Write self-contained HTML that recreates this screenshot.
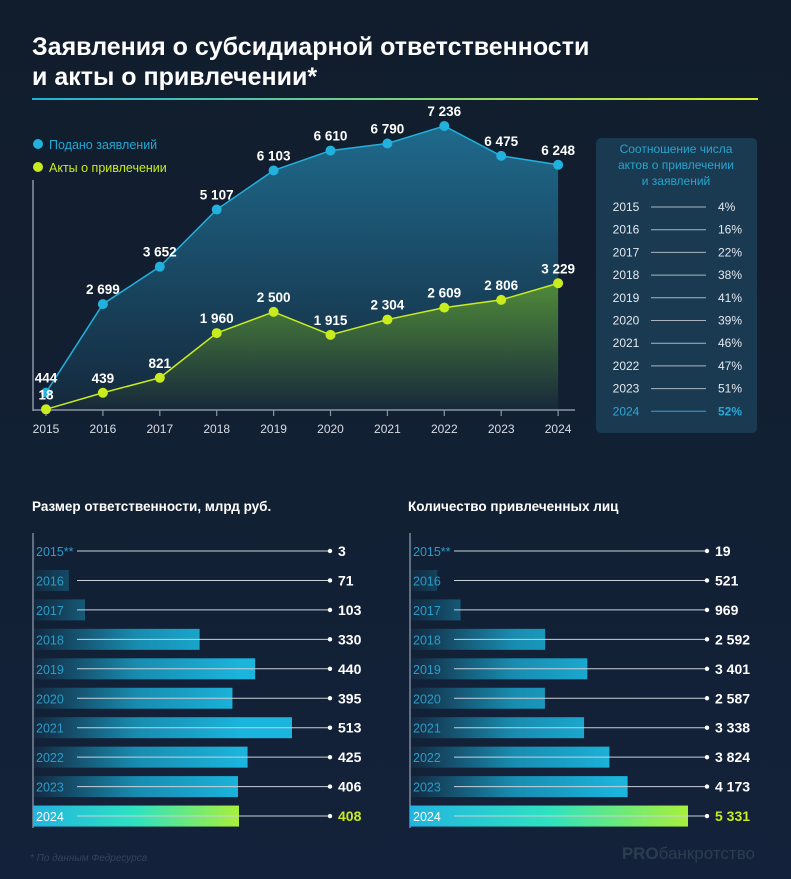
<!DOCTYPE html>
<html><head><meta charset="utf-8"><style>
body{margin:0;background:#121f30;}
svg{display:block;font-family:"Liberation Sans",sans-serif;}
</style></head><body>
<svg width="791" height="879" viewBox="0 0 791 879" xmlns="http://www.w3.org/2000/svg" id="chart">
<defs>
<linearGradient id="bg" x1="0" y1="0" x2="0" y2="1"><stop offset="0" stop-color="#111d2c"/><stop offset="1" stop-color="#13223a"/></linearGradient>
<linearGradient id="ul" x1="0" x2="1"><stop offset="0" stop-color="#1fb0d8"/><stop offset="1" stop-color="#d8f02a"/></linearGradient>
<linearGradient id="areaB" x1="0" y1="0" x2="0" y2="1"><stop offset="0" stop-color="#1f6a8c"/><stop offset="1" stop-color="#14283c"/></linearGradient>
<linearGradient id="areaG" x1="0" y1="0" x2="0" y2="1"><stop offset="0" stop-color="#4f8a3a"/><stop offset="1" stop-color="#17283a"/></linearGradient>
<linearGradient id="barB1" gradientUnits="userSpaceOnUse" x1="33" y1="0" x2="240" y2="0"><stop offset="0" stop-color="#1ab0d8" stop-opacity="0.05"/><stop offset="0.5" stop-color="#1ab0d8" stop-opacity="0.75"/><stop offset="1" stop-color="#1ab4dc"/></linearGradient>
<linearGradient id="barB2" gradientUnits="userSpaceOnUse" x1="410" y1="0" x2="617" y2="0"><stop offset="0" stop-color="#1ab0d8" stop-opacity="0.05"/><stop offset="0.5" stop-color="#1ab0d8" stop-opacity="0.75"/><stop offset="1" stop-color="#1ab4dc"/></linearGradient>
<linearGradient id="barG" x1="0" x2="1"><stop offset="0" stop-color="#22b4e0"/><stop offset="0.5" stop-color="#2ee2c0"/><stop offset="1" stop-color="#a8f03a"/></linearGradient>
</defs>
<rect width="791" height="879" fill="url(#bg)"/>
<text x="32" y="55" font-size="25" font-weight="bold" fill="#fff">Заявления о субсидиарной ответственности</text>
<text x="32" y="85" font-size="25" font-weight="bold" fill="#fff">и акты о привлечении*</text>
<rect x="32" y="98" width="726" height="2" fill="url(#ul)"/>

<g>
<circle cx="38" cy="144" r="5" fill="#22b0dc"/>
<text x="49" y="149" font-size="12.5" fill="#22a8d4">Подано заявлений</text>
<circle cx="38" cy="167" r="5" fill="#c8ec1e"/>
<text x="49" y="172" font-size="12.5" fill="#c8ec1e">Акты о привлечении</text>
</g>
<g id="lineChart"></g>

<g>
<rect x="596" y="138" width="161" height="295" rx="5" fill="#1a3a52"/>
<text x="676" y="153" font-size="12" fill="#2aa4cc" text-anchor="middle">Соотношение числа</text>
<text x="676" y="169" font-size="12" fill="#2aa4cc" text-anchor="middle">актов о привлечении</text>
<text x="676" y="185" font-size="12" fill="#2aa4cc" text-anchor="middle">и заявлений</text>
<g id="ratioRows"></g>
</g>

<text x="32" y="511" font-size="13.5" font-weight="bold" fill="#fff">Размер ответственности, млрд руб.</text>
<text x="408" y="511" font-size="13.5" font-weight="bold" fill="#fff">Количество привлеченных лиц</text>
<g id="bars1"></g>
<g id="bars2"></g>

<text x="30" y="861" font-size="10" font-style="italic" fill="#33445a">* По данным Федресурса</text>
<text x="755" y="859" font-size="17" font-weight="bold" fill="#2c3d50" text-anchor="end">PRO<tspan font-weight="normal">банкротство</tspan></text>
</svg>
<script>
const years=["2015","2016","2017","2018","2019","2020","2021","2022","2023","2024"];
const applications=[444,2699,3652,5107,6103,6610,6790,7236,6475,6248];
const acts=[18,439,821,1960,2500,1915,2304,2609,2806,3229];
const appLabels=["444","2 699","3 652","5 107","6 103","6 610","6 790","7 236","6 475","6 248"];
const actLabels=["18","439","821","1 960","2 500","1 915","2 304","2 609","2 806","3 229"];
const ratios=["4%","16%","22%","38%","41%","39%","46%","47%","51%","52%"];
const liability=[3,71,103,330,440,395,513,425,406,408];
const liabilityLabels=["3","71","103","330","440","395","513","425","406","408"];
const persons=[19,521,969,2592,3401,2587,3338,3824,4173,5331];
const personsLabels=["19","521","969","2 592","3 401","2 587","3 338","3 824","4 173","5 331"];
const barYears=["2015**","2016","2017","2018","2019","2020","2021","2022","2023","2024"];

const NS="http://www.w3.org/2000/svg";
function mk(p,t,a,txt){const e=document.createElementNS(NS,t);for(const k in a)e.setAttribute(k,a[k]);if(txt!==undefined)e.textContent=txt;p.appendChild(e);return e;}
const xS=i=>46+i*56.9;
const yS=v=>410-v*(284/7236);
const lc=document.getElementById('lineChart');
let e;
e=mk(lc,'path',{d:'M'+years.map((_,i)=>xS(i)+','+yS(applications[i])).join('L')+'L'+xS(9)+',410L'+xS(0)+',410Z',fill:'url(#areaB)'});


e=mk(lc,'path',{d:'M'+years.map((_,i)=>xS(i)+','+yS(acts[i])).join('L')+'L'+xS(9)+',410L'+xS(0)+',410Z',fill:'url(#areaG)'});


e=mk(lc,'line',{x1:33,y1:180,x2:33,y2:411,stroke:'#8a96a4','stroke-width':1.5});


e=mk(lc,'line',{x1:33,y1:410,x2:575,y2:410,stroke:'#8a96a4','stroke-width':1.5});


e=mk(lc,'polyline',{points:years.map((_,i)=>xS(i)+','+yS(applications[i])).join(' '),fill:'none',stroke:'#22b0dc','stroke-width':1.5});


e=mk(lc,'polyline',{points:years.map((_,i)=>xS(i)+','+yS(acts[i])).join(' '),fill:'none',stroke:'#c8ec1e','stroke-width':1.5});


years.forEach((y,i)=>{
 const x=xS(i);
 e=mk(lc,'line',{x1:x,y1:410,x2:x,y2:416,stroke:'#8a96a4','stroke-width':1.2});
 
 
 e=mk(lc,'text',{x:x,y:433,'font-size':12,fill:'#d8dde4','text-anchor':'middle'},y);
 
 
 e=mk(lc,'circle',{cx:x,cy:yS(applications[i]),r:5,fill:'#22b0dc'});
 
 
 e=mk(lc,'circle',{cx:x,cy:yS(acts[i]),r:5,fill:'#c8ec1e'});
 
 
 e=mk(lc,'text',{x:x,y:yS(applications[i])-10,'font-size':13.5,'font-weight':'bold',fill:'#fff','text-anchor':'middle'},appLabels[i]);
 
 
 e=mk(lc,'text',{x:x,y:yS(acts[i])-10,'font-size':13.5,'font-weight':'bold',fill:'#fff','text-anchor':'middle'},actLabels[i]);
 
 
});
const rr=document.getElementById('ratioRows');
years.forEach((y,i)=>{
 const yy=211+i*22.7, last=i===9, c=last?'#2aa8d8':'#e4e8ee';
 e=mk(rr,'text',{x:626,y:yy,'font-size':12,fill:c,'text-anchor':'middle'},y);
 
 
 e=mk(rr,'line',{x1:651,y1:yy-4,x2:706,y2:yy-4,stroke:last?'#2aa8d8':'#aab4c0','stroke-width':1});
 
 
 e=mk(rr,'text',{x:718,y:yy,'font-size':12,fill:c,'font-weight':last?'bold':'normal'},ratios[i]);
 
 
});
function bars(id,x0,scale,vals,labels,lineEnd,grad){
 const g=document.getElementById(id);
 e=mk(g,'line',{x1:x0,y1:533,x2:x0,y2:828,stroke:'#7a8898','stroke-width':1.5});
 
 
 vals.forEach((v,i)=>{
  const cy=551+i*29.45,last=i===9;
  e=mk(g,'rect',{x:x0,y:cy-10.5,width:Math.max(v*scale,2),height:21,fill:last?'url(#barG)':'url(#'+grad+')'});
  
  
  e=mk(g,'text',{x:x0+3,y:cy+5,'font-size':12.5,fill:last?'#fff':'#2a9cc8'},barYears[i]);
  
  
  e=mk(g,'line',{x1:x0+44,y1:cy,x2:lineEnd,y2:cy,stroke:'#c8d0da','stroke-width':1});
  
  
  e=mk(g,'circle',{cx:lineEnd,cy:cy,r:2.2,fill:'#fff'});
  
  
  e=mk(g,'text',{x:lineEnd+8,y:cy+5,'font-size':14,'font-weight':'bold',fill:last?'#c8ec1e':'#fff'},labels[i]);
  
  
 });
}
bars('bars1',33,259/513,liability,liabilityLabels,330,'barB1');
bars('bars2',410,278/5331,persons,personsLabels,707,'barB2');
</script>
</body></html>
